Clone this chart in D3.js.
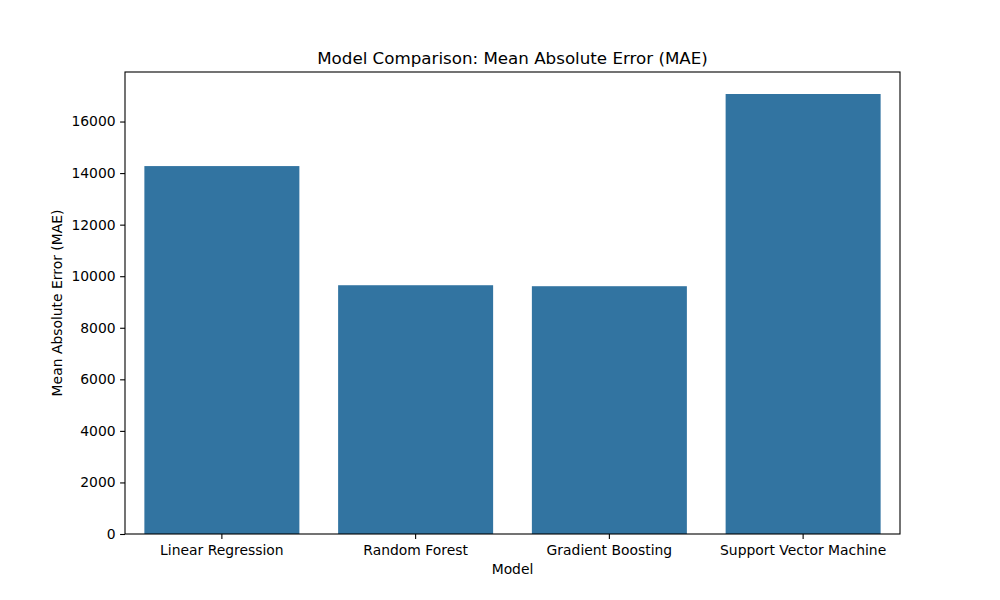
<!DOCTYPE html>
<head>
  <meta charset="utf-8">
  <script src="https://d3js.org/d3.v7.min.js"></script>
  <style>
    body { margin: 0; background: #fff; }
    text { font-family: "DejaVu Sans", sans-serif; fill: #000; }
  </style>
</head>
<body>
  <svg width="1000" height="600"></svg>
  <script>
    // values
    const models = ["Linear Regression", "Random Forest", "Gradient Boosting", "Support Vector Machine"];
    const mae = [14272, 9650, 9612, 17068];
    const yTicks = [0, 2000, 4000, 6000, 8000, 10000, 12000, 14000, 16000];

    const margin = { top: 72, right: 100, bottom: 66, left: 125 };
    const width = 1000, height = 600;
    const svg = d3.select("svg");

    const x = d3.scaleBand()
      .domain(models)
      .range([margin.left, width - margin.right])
      .paddingInner(0.2)
      .paddingOuter(0.1);

    const y = d3.scaleLinear()
      .domain([0, d3.max(mae) * 1.05])
      .range([height - margin.bottom, margin.top]);

    svg.append("g")
      .selectAll("rect")
      .data(models)
      .enter()
      .append("rect")
      .attr("x", d => x(d))
      .attr("width", x.bandwidth())
      .attr("y", (d, i) => y(mae[i]))
      .attr("height", (d, i) => y(0) - y(mae[i]))
      .attr("fill", "#3274a1");

    // frame
    svg.append("rect")
      .attr("x", margin.left)
      .attr("y", margin.top)
      .attr("width", width - margin.left - margin.right)
      .attr("height", height - margin.top - margin.bottom)
      .attr("fill", "none")
      .attr("stroke", "#000")
      .attr("stroke-width", 1.1);

    const xAxis = svg.append("g")
      .attr("transform", "translate(0," + (height - margin.bottom) + ")")
      .call(d3.axisBottom(x).tickSize(4.9).tickPadding(6));
    xAxis.select(".domain").remove();
    xAxis.selectAll("text").style("font-size", "13.9px").attr("fill", "#000");
    xAxis.selectAll("line").attr("stroke", "#000").attr("stroke-width", 1.1);

    const yAxis = svg.append("g")
      .attr("transform", "translate(" + margin.left + ",0)")
      .call(d3.axisLeft(y).tickValues(yTicks).tickFormat(d3.format("d")).tickSize(4.9).tickPadding(4.5));
    yAxis.select(".domain").remove();
    yAxis.selectAll("text").style("font-size", "13.9px").attr("fill", "#000");
    yAxis.selectAll("line").attr("stroke", "#000").attr("stroke-width", 1.1);

    svg.append("text")
      .attr("x", (margin.left + width - margin.right) / 2)
      .attr("y", margin.top - 8.5)
      .attr("text-anchor", "middle")
      .style("font-size", "16.7px")
      .text("Model Comparison: Mean Absolute Error (MAE)");

    svg.append("text")
      .attr("x", (margin.left + width - margin.right) / 2)
      .attr("y", 574)
      .attr("text-anchor", "middle")
      .style("font-size", "13.9px")
      .text("Model");

    svg.append("text")
      .attr("transform", "translate(62," + ((margin.top + height - margin.bottom) / 2) + ") rotate(-90)")
      .attr("text-anchor", "middle")
      .style("font-size", "13.9px")
      .text("Mean Absolute Error (MAE)");
  </script>
</body>
